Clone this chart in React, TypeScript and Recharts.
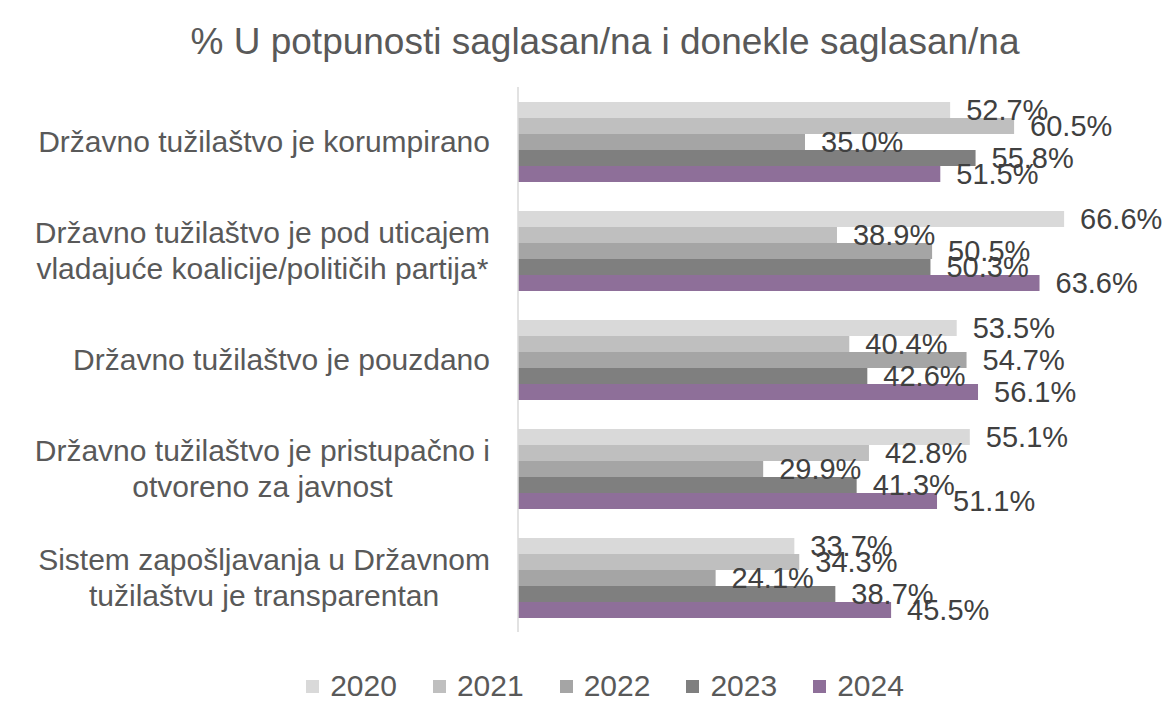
import React from "react";
import { BarChart, Bar, XAxis, YAxis, LabelList } from "recharts";

const categories = [
  "Državno tužilaštvo je korumpirano",
  "Državno tužilaštvo je pod uticajem\nvladajuće koalicije/političih partija*",
  "Državno tužilaštvo je pouzdano",
  "Državno tužilaštvo je pristupačno i\notvoreno za javnost",
  "Sistem zapošljavanja u Državnom\ntužilaštvu je transparentan",
];
const years = ["2020", "2021", "2022", "2023", "2024"];
const v2020 = [52.7, 66.6, 53.5, 55.1, 33.7];
const v2021 = [60.5, 38.9, 40.4, 42.8, 34.3];
const v2022 = [35.0, 50.5, 54.7, 29.9, 24.1];
const v2023 = [55.8, 50.3, 42.6, 41.3, 38.7];
const v2024 = [51.5, 63.6, 56.1, 51.1, 45.5];
const colors = ["#d9d9d9", "#bfbfbf", "#a5a5a5", "#7f7f7f", "#8e6f99"];
const title = "% U potpunosti saglasan/na i donekle saglasan/na";

const seriesValues = [v2020, v2021, v2022, v2023, v2024];
const data = categories.map((name, i) => {
  const row: any = { name };
  years.forEach((y, k) => {
    row[y] = seriesValues[k][i];
  });
  return row;
});

const FONT = "'Liberation Sans', Arial, sans-serif";
const CAT_FS = 30;

let ctx: CanvasRenderingContext2D | null = null;
function measure(text: string, size: number): number {
  try {
    if (!ctx) ctx = document.createElement("canvas").getContext("2d");
    if (ctx) {
      ctx.font = `${size}px 'Liberation Sans', Arial, sans-serif`;
      return ctx.measureText(text).width;
    }
  } catch (e) {}
  return text.length * size * 0.5;
}

const CatTick = (props: any) => {
  const { x, y, payload } = props;
  const lines = String(payload.value).split("\n");
  const lh = 36;
  const maxW = Math.max(...lines.map((l) => measure(l, CAT_FS)));
  const multi = lines.length > 1;
  const startY = y - ((lines.length - 1) * lh) / 2;
  return (
    <g>
      {lines.map((l, i) => (
        <text
          key={i}
          x={multi ? x - maxW / 2 : x}
          y={startY + i * lh}
          textAnchor={multi ? "middle" : "end"}
          dominantBaseline="central"
          fontSize={CAT_FS}
          fill="#595959"
          fontFamily={FONT}
        >
          {l}
        </text>
      ))}
    </g>
  );
};

export default function App() {
  return (
    <div
      style={{
        position: "absolute",
        left: 0,
        top: 0,
        width: 1170,
        height: 701,
        background: "#fff",
        fontFamily: FONT,
        overflow: "hidden",
      }}
    >
      <div
        style={{
          position: "absolute",
          top: 18,
          left: 40,
          width: 1130,
          textAlign: "center",
          fontSize: 37,
          color: "#595959",
          lineHeight: "48px",
          whiteSpace: "nowrap",
        }}
      >
        {title}
      </div>
      <BarChart
        width={1170}
        height={701}
        data={data}
        layout="vertical"
        margin={{ top: 87, right: 78, bottom: 69, left: 0 }}
        barGap={0}
      >
        <XAxis type="number" domain={[0, 70]} hide />
        <YAxis
          type="category"
          dataKey="name"
          width={518}
          interval={0}
          tickLine={false}
          tickSize={0}
          tickMargin={28}
          axisLine={{ stroke: "#d9d9d9", strokeWidth: 1.5 }}
          tick={<CatTick />}
        />
        {years.map((yr, k) => (
          <Bar
            key={yr}
            dataKey={yr}
            fill={colors[k]}
            barSize={16}
            isAnimationActive={false}
          >
            <LabelList
              dataKey={yr}
              position="right"
              offset={16}
              formatter={(v: any) => `${Number(v).toFixed(1)}%`}
              fill="#404040"
              fontSize={29}
              fontFamily={FONT}
            />
          </Bar>
        ))}
      </BarChart>
      <div
        style={{
          position: "absolute",
          top: 672,
          left: 40,
          width: 1130,
          height: 28,
          display: "flex",
          justifyContent: "center",
          alignItems: "center",
          fontSize: 30,
          lineHeight: "28px",
          color: "#595959",
        }}
      >
        {years.map((yr, k) => (
          <div
            key={yr}
            style={{
              display: "flex",
              alignItems: "center",
              marginRight: k < years.length - 1 ? 36 : 0,
            }}
          >
            <span
              style={{
                display: "inline-block",
                width: 13,
                height: 13,
                background: colors[k],
                marginRight: 11,
              }}
            />
            <span>{yr}</span>
          </div>
        ))}
      </div>
    </div>
  );
}
